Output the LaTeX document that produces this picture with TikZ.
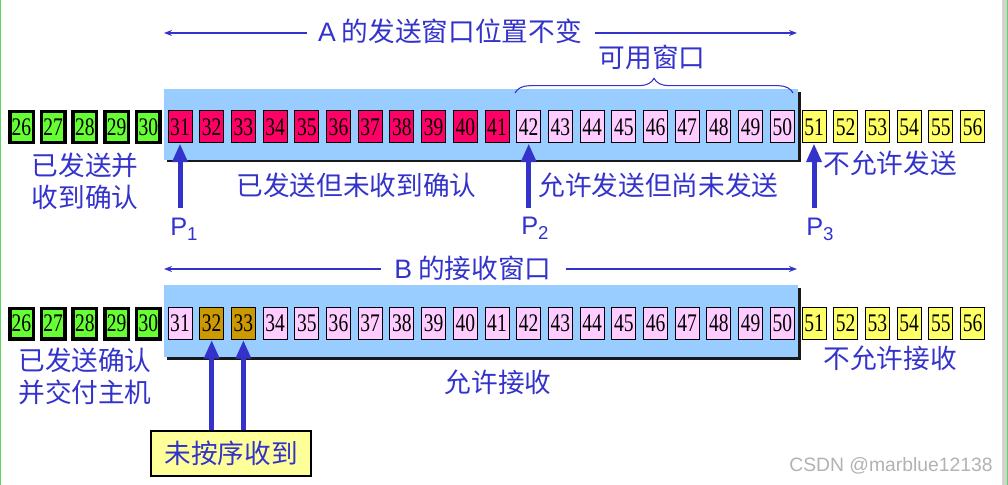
\documentclass[tikz,border=0pt]{standalone}
\usepackage{graphicx}
\usepackage{fontspec}
\setmainfont{Liberation Serif}
\newfontfamily\cjk{Noto Sans CJK SC}
\newfontfamily\lsans{Liberation Sans}
\usetikzlibrary{arrows.meta,decorations.pathreplacing,calc}
\definecolor{tblue}{HTML}{3333CC}
\definecolor{winblue}{HTML}{99CCFF}
\definecolor{boxgreen}{HTML}{66FF33}
\definecolor{boxred}{HTML}{FF0066}
\definecolor{boxpink}{HTML}{FFCCFF}
\definecolor{boxyellow}{HTML}{FFFF66}
\definecolor{boxgold}{HTML}{CC9900}
\definecolor{labyellow}{HTML}{FFFF99}
\definecolor{edgegreen}{HTML}{5CD65C}
\newcommand\boxnum[1]{\scalebox{0.77}[1]{#1}}
\newcommand\plabel[1]{{\lsans\fontsize{19}{19}\selectfont P\raisebox{-3.75pt}{\fontsize{14}{14}\selectfont #1}}}
\begin{document}
\begin{tikzpicture}[x=0.75pt,y=-0.75pt,
  num/.style={draw=black, line width=0.75pt, minimum width=18pt, minimum height=24pt, inner sep=0pt, font=\fontsize{19}{19}\selectfont},
  gbox/.style={num, fill=boxgreen, line width=2.6pt, minimum width=17.6pt, minimum height=22.9pt},
  rbox/.style={num, fill=boxred},
  pbox/.style={num, fill=boxpink},
  ybox/.style={num, fill=boxyellow},
  obox/.style={num, fill=boxgold},
  lbl/.style={text=tblue, font=\cjk\fontsize{20}{24}\selectfont, inner sep=0pt, align=center},
  plbl/.style={text=tblue, inner sep=0pt, anchor=base west},
  bigarrow/.style={draw=tblue, line width=3.75pt, -{Triangle[length=14pt,width=11pt]}},
  thinarrow/.style={draw=tblue, line width=1.1pt, -{Stealth[length=6pt,width=4.5pt]}},
  winshadow/.style={fill=black!90},
  winfill/.style={fill=winblue}
]
\useasboundingbox (0,0) rectangle (1008,485);
% page edges
\fill[edgegreen] (0,0) rectangle (1.5,485);
\fill[gray!35] (1002,0) rectangle (1006.5,485);
\fill[edgegreen] (1006.5,0) rectangle (1008,485);

% ---------- sender A ----------
\fill[winshadow] (167,92) rectangle (800.5,162.5);
\fill[winfill] (164,89) rectangle (798,160);

\foreach \i in {26,...,30} \node[gbox] (a\i) at ({180+(\i-31)*31.7},127) {\boxnum{\i}};
\foreach \i in {31,...,41} \node[rbox] (a\i) at ({180+(\i-31)*31.7},127) {\boxnum{\i}};
\foreach \i in {42,...,50} \node[pbox] (a\i) at ({180+(\i-31)*31.7},127) {\boxnum{\i}};
\foreach \i in {51,...,56} \node[ybox] (a\i) at ({180+(\i-31)*31.7},127) {\boxnum{\i}};

\node[lbl] (tA) at (450,31) {{\lsans A} 的发送窗口位置不变};
\coordinate (aL) at (164,33);
\coordinate (aR) at (797,33);
\draw[thinarrow] ($(tA.west |- aL)+(-11,0)$) -- (aL);
\draw[thinarrow] ($(tA.east |- aR)+(13,0)$) -- (aR);

\node[lbl] (avail) at (652,57) {可用窗口};
\draw[tblue, line width=0.8pt, decorate, decoration={brace, amplitude=11pt}] (515,93) -- (793,93);

\node[lbl] (doneA) at (85,181) {已发送并\\收到确认};
\node[lbl] (sentA) at (356.5,185) {已发送但未收到确认};
\node[lbl] (allowA) at (658.5,185) {允许发送但尚未发送};
\node[lbl] (denyA) at (890,163) {不允许发送};

\coordinate (q1) at ($(a31.south)+(0,64)$);
\coordinate (q2) at ($(a42.south)+(0,64)$);
\coordinate (q3) at ($(a51.south)+(0,64)$);
\draw[bigarrow] (q1) -- (a31.south);
\draw[bigarrow] (q2) -- (a42.south);
\draw[bigarrow] (q3) -- (a51.south);
\node[plbl] (p1) at (170,235) {\plabel{1}};
\node[plbl] (p2) at (521,234) {\plabel{2}};
\node[plbl] (p3) at (806,235) {\plabel{3}};

% ---------- receiver B ----------
\fill[winshadow] (167,288) rectangle (800.5,359.5);
\fill[winfill] (164,285) rectangle (798,357);

\foreach \i in {26,...,30} \node[gbox] (b\i) at ({180+(\i-31)*31.7},323.5) {\boxnum{\i}};
\foreach \i in {31,34,35,...,50} \node[pbox] (b\i) at ({180+(\i-31)*31.7},323.5) {\boxnum{\i}};
\foreach \i in {32,33} \node[obox] (b\i) at ({180+(\i-31)*31.7},323.5) {\boxnum{\i}};
\foreach \i in {51,...,56} \node[ybox] (b\i) at ({180+(\i-31)*31.7},323.5) {\boxnum{\i}};

\node[lbl] (tB) at (473,268) {{\lsans B} 的接收窗口};
\coordinate (bL) at (164,269);
\coordinate (bR) at (797,269);
\draw[thinarrow] ($(tB.west |- bL)+(-13,0)$) -- (bL);
\draw[thinarrow] ($(tB.east |- bR)+(14,0)$) -- (bR);

\node[lbl] (doneB) at (85,376) {已发送确认\\并交付主机};
\node[lbl] (allowB) at (498,382) {允许接收};
\node[lbl] (denyB) at (890,358) {不允许接收};

\node[lbl, draw=black, line width=0.8pt, fill=labyellow, minimum width=120pt, minimum height=33.75pt] (lab) at (231,453.5) {未按序收到};
\draw[bigarrow] (lab.north -| b32) -- (b32.south);
\draw[bigarrow] (lab.north -| b33) -- (b33.south);

\node[text=gray!60, font=\lsans\fontsize{14.5}{14.5}\selectfont, inner sep=0pt] (wm) at (891,466) {CSDN @marblue12138};
\end{tikzpicture}
\end{document}
